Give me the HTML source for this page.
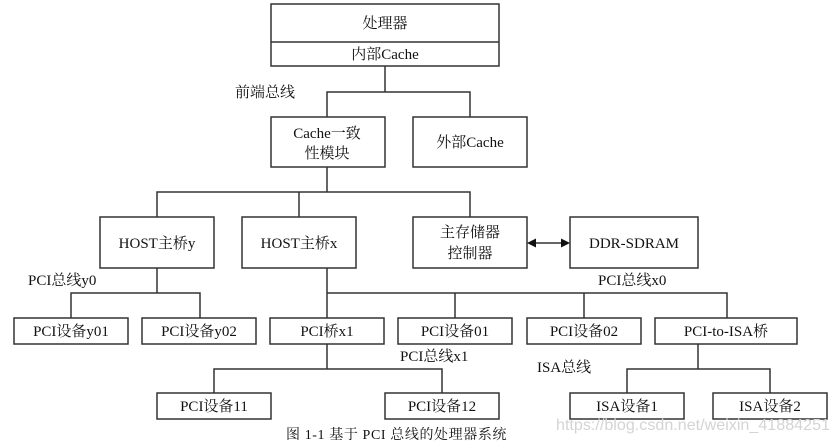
<!DOCTYPE html>
<html><head><meta charset="utf-8"><style>
html,body{margin:0;padding:0;background:#fff;}
svg{display:block;}
text{font-family:"Liberation Serif","Noto Serif CJK SC",serif;font-size:15px;fill:#111;}
</style></head><body>
<svg width="836" height="443" viewBox="0 0 836 443" xmlns="http://www.w3.org/2000/svg">
<g fill="none" stroke="#333" stroke-width="1.5">
<rect x="271" y="4" width="228" height="62"/>
<line x1="271" y1="42" x2="499" y2="42"/>
<polyline points="385,66 385,92"/>
<polyline points="327,117 327,92 470,92 470,117"/>
<rect x="271" y="117" width="114" height="50"/>
<rect x="413" y="117" width="114" height="50"/>
<polyline points="327,167 327,192"/>
<polyline points="157,217 157,192 470,192 470,217"/>
<line x1="299" y1="192" x2="299" y2="217"/>
<rect x="100" y="217" width="114" height="51"/>
<rect x="242" y="217" width="114" height="51"/>
<rect x="413" y="217" width="114" height="51"/>
<rect x="570" y="217" width="128" height="51"/>
<line x1="534" y1="243" x2="563" y2="243"/>
<line x1="157" y1="268" x2="157" y2="293"/>
<polyline points="71,318 71,293 200,293 200,318"/>
<rect x="14" y="318" width="114" height="26"/>
<rect x="142" y="318" width="114" height="26"/>
<line x1="327" y1="268" x2="327" y2="318"/>
<polyline points="327,293 727,293 727,318"/>
<line x1="455" y1="293" x2="455" y2="318"/>
<line x1="584" y1="293" x2="584" y2="318"/>
<rect x="270" y="318" width="114" height="26"/>
<rect x="398" y="318" width="114" height="26"/>
<rect x="527" y="318" width="114" height="26"/>
<rect x="655" y="318" width="142" height="26"/>
<line x1="327" y1="344" x2="327" y2="369"/>
<polyline points="214,393 214,369 442,369 442,393"/>
<rect x="157" y="393" width="114" height="26"/>
<rect x="385" y="393" width="114" height="26"/>
<line x1="698" y1="344" x2="698" y2="369"/>
<polyline points="627,393 627,369 770,369 770,393"/>
<rect x="570" y="393" width="114" height="26"/>
<rect x="713" y="393" width="114" height="26"/>
</g>
<polygon points="527,243 536,238.5 536,247.5" fill="#111"/>
<polygon points="570,243 561,238.5 561,247.5" fill="#111"/>
<g text-anchor="middle">
<text x="385" y="28">处理器</text>
<text x="385" y="59">内部Cache</text>
<text x="327" y="138">Cache一致</text>
<text x="327" y="158">性模块</text>
<text x="470" y="147">外部Cache</text>
<text x="157" y="248">HOST主桥y</text>
<text x="299" y="248">HOST主桥x</text>
<text x="470" y="237">主存储器</text>
<text x="470" y="258">控制器</text>
<text x="634" y="248">DDR-SDRAM</text>
<text x="71" y="336">PCI设备y01</text>
<text x="199" y="336">PCI设备y02</text>
<text x="327" y="336">PCI桥x1</text>
<text x="455" y="336">PCI设备01</text>
<text x="584" y="336">PCI设备02</text>
<text x="726" y="336">PCI-to-ISA桥</text>
<text x="214" y="411">PCI设备11</text>
<text x="442" y="411">PCI设备12</text>
<text x="627" y="411">ISA设备1</text>
<text x="770" y="411">ISA设备2</text>
</g>
<text x="235" y="97">前端总线</text>
<text x="28" y="285">PCI总线y0</text>
<text x="598" y="285">PCI总线x0</text>
<text x="400" y="361">PCI总线x1</text>
<text x="537" y="372">ISA总线</text>
<text x="286" y="439" style="font-size:14px;letter-spacing:0.6px">图 1-1 基于 PCI 总线的处理器系统</text>
<text x="556" y="430" style="font-family:'Liberation Sans',sans-serif;font-size:16px;fill:#d4d4d4" textLength="274" lengthAdjust="spacingAndGlyphs">https://blog.csdn.net/weixin_41884251</text>
</svg>
</body></html>
